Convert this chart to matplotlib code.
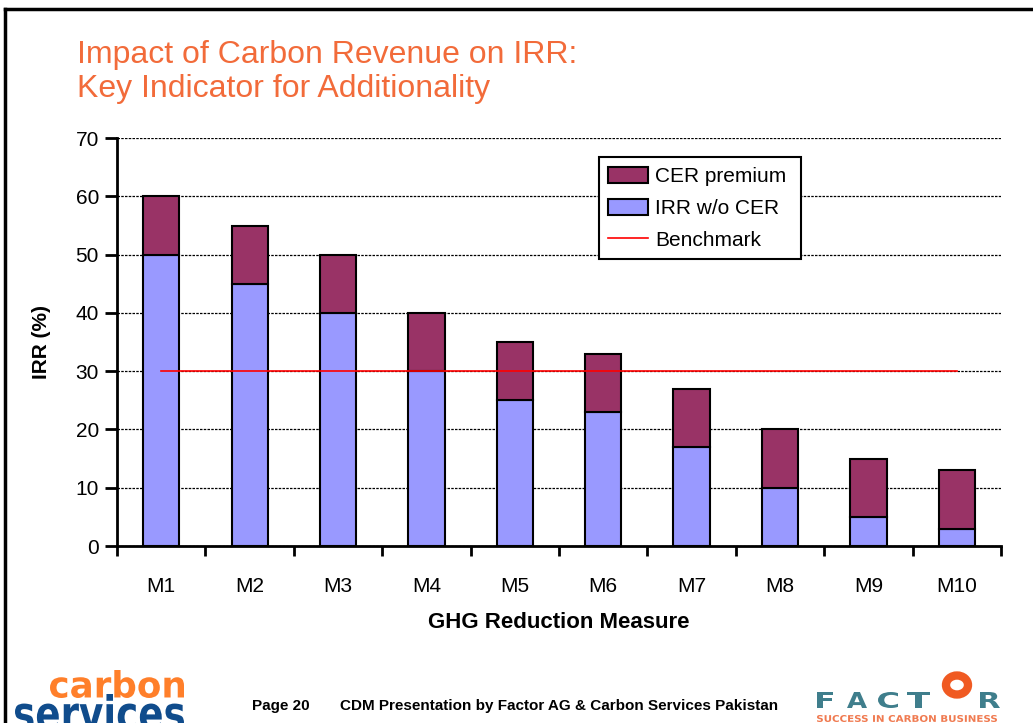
import numpy as np
import matplotlib.pyplot as plt
from matplotlib.patches import Patch, Ellipse, PathPatch
from matplotlib.lines import Line2D
from matplotlib.textpath import TextPath
from matplotlib.font_manager import FontProperties
from matplotlib.transforms import Affine2D

# data
measures = ["M1", "M2", "M3", "M4", "M5", "M6", "M7", "M8", "M9", "M10"]
irr_without_cer = [50, 45, 40, 30, 25, 23, 17, 10, 5, 3]
cer_premium = [10, 10, 10, 10, 10, 10, 10, 10, 10, 10]
benchmark = [30, 30, 30, 30, 30, 30, 30, 30, 30, 30]
y_ticks = [0, 10, 20, 30, 40, 50, 60, 70]

base_color = "#9999FF"
premium_color = "#993366"
title_color = "#F26B3A"

plt.rcParams["font.family"] = ["Liberation Sans", "DejaVu Sans"]

W, H = 1033, 723
fig = plt.figure(figsize=(W / 100, H / 100), dpi=100)


def fitted_text(s, x0, y0, x1, y1, color, weight="bold", family="DejaVu Sans"):
    """Draw text as a path squeezed into a pixel box (top-left origin)."""
    tp = TextPath((0, 0), s, size=10, prop=FontProperties(family=family, weight=weight))
    bb = tp.get_extents()
    sx = (x1 - x0) / bb.width / W
    sy = (y1 - y0) / bb.height / H
    tr = (Affine2D().translate(-bb.x0, -bb.y0).scale(sx, sy)
          .translate(x0 / W, 1 - y1 / H) + fig.transFigure)
    fig.add_artist(PathPatch(tp, transform=tr, facecolor=color, edgecolor="none"))


# slide frame
fig.add_artist(Line2D([0.005, 0.005], [0.0, 0.9875], color="black", lw=2.5,
                      transform=fig.transFigure))
fig.add_artist(Line2D([0.005, 1.0], [0.9875, 0.9875], color="black", lw=2.5,
                      transform=fig.transFigure))

fig.text(0.075, 1 - 63 / H, "Impact of Carbon Revenue on IRR:", color=title_color,
         fontsize=23, va="baseline", ha="left")
fig.text(0.075, 1 - 97 / H, "Key Indicator for Additionality", color=title_color,
         fontsize=23, va="baseline", ha="left")

ax = fig.add_axes([0.1133, 0.2448, 0.8557, 0.5642])
x = np.arange(len(measures))
w = 0.41
ax.bar(x, irr_without_cer, width=w, color=base_color, edgecolor="black",
       linewidth=1.5, zorder=3)
ax.bar(x, cer_premium, width=w, bottom=irr_without_cer, color=premium_color,
       edgecolor="black", linewidth=1.5, zorder=3)
ax.plot(x, benchmark, color="red", lw=1.2, zorder=4)

ax.set_xlim(-0.5, len(measures) - 0.5)
ax.set_ylim(0, 70)
ax.set_yticks(y_ticks)
ax.yaxis.grid(True, color="black", linestyle=(0, (2, 1)), linewidth=0.9, zorder=0)
ax.set_axisbelow(True)

ax.set_xticks(x)
ax.set_xticklabels(measures, fontsize=15)
ax.tick_params(axis="x", which="major", length=0, pad=22)
ax.set_xticks(np.arange(len(measures) + 1) - 0.5, minor=True)
ax.tick_params(axis="x", which="minor", length=7, width=2, direction="out")
ax.tick_params(axis="y", labelsize=15, length=9, width=2, direction="out", pad=4)

for side in ["top", "right"]:
    ax.spines[side].set_visible(False)
ax.spines["left"].set_linewidth(2)
ax.spines["bottom"].set_linewidth(2)

ax.set_xlabel("GHG Reduction Measure", fontsize=16, fontweight="bold", labelpad=12)
ax.set_ylabel("IRR (%)", fontsize=15, fontweight="bold", labelpad=18)

handles = [Patch(facecolor=premium_color, edgecolor="black", linewidth=1.5),
           Patch(facecolor=base_color, edgecolor="black", linewidth=1.5),
           Line2D([], [], color="red", lw=1.2)]
leg = ax.legend(handles, ["CER premium", "IRR w/o CER", "Benchmark"],
                loc="upper left", bbox_to_anchor=(0.545, 0.708, 0.2285, 0.245),
                mode="expand", fontsize=15,
                frameon=True, fancybox=False, edgecolor="black", framealpha=1,
                handlelength=1.9, handleheight=0.8, borderpad=0.45,
                labelspacing=0.62, handletextpad=0.35, borderaxespad=0)
leg.get_frame().set_linewidth(1.5)
leg.set_zorder(5)

# footer
fig.text(252 / W, 1 - 706 / H, "Page 20", fontsize=11, fontweight="bold",
         ha="left", va="center")
fig.text(340 / W, 1 - 706 / H, "CDM Presentation by Factor AG & Carbon Services Pakistan",
         fontsize=11, fontweight="bold", ha="left", va="center")

# carbon services logo
fitted_text("carbon", 50, 670, 184, 698, "#FF7F2A")
fitted_text("services", 15, 694, 184, 731, "#104C8C")

# FACTOR logo
logo_letters = {"F": (817, 833), "A": (847, 867), "C": (878, 898),
                "T": (907, 930), "R": (980, 1000)}
for ch, (lx0, lx1) in logo_letters.items():
    fitted_text(ch, lx0, 692, lx1, 708, "#3F7E8C", weight="bold")
fig.add_artist(Ellipse((957 / W, 1 - 685 / H), 22 / W, 19 / H,
                       transform=fig.transFigure, facecolor="none",
                       edgecolor="#F05A22", linewidth=6))
fitted_text("SUCCESS IN CARBON BUSINESS", 817, 715, 997, 722, "#F07A50")

fig.savefig("out.png", dpi=100)
